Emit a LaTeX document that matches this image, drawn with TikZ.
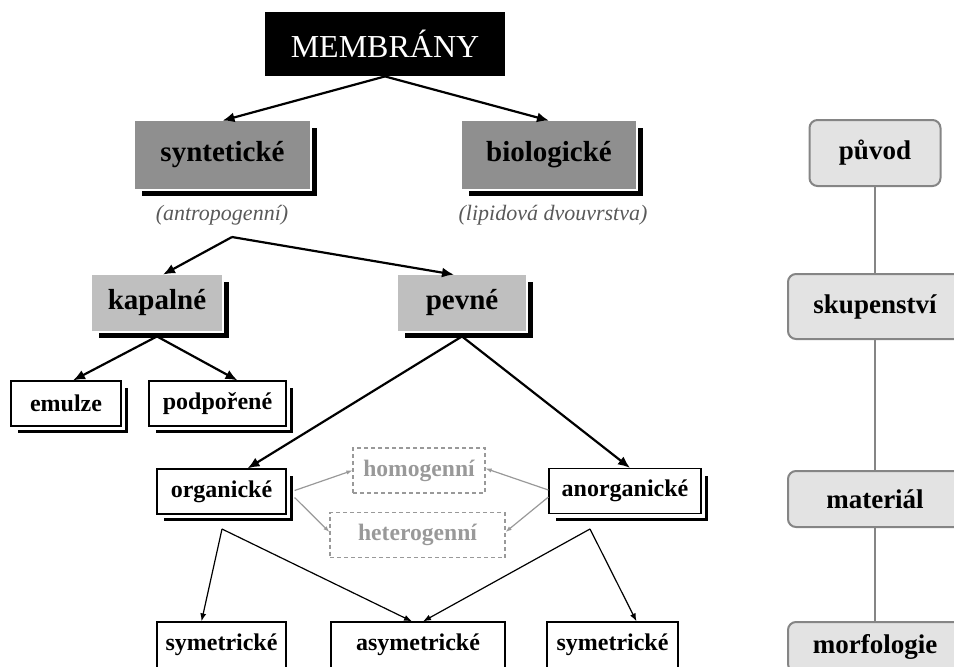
\documentclass[tikz,border=0pt]{standalone}
\usepackage{fontspec}
\setmainfont{Liberation Serif}
\usetikzlibrary{shadows,arrows.meta}

\definecolor{darkbox}{gray}{0.56}
\definecolor{lightbox}{gray}{0.75}
\definecolor{pillfill}{gray}{0.89}
\definecolor{pillline}{gray}{0.52}
\definecolor{dashgray}{gray}{0.6}
\definecolor{notegray}{gray}{0.35}

\begin{document}
\begin{tikzpicture}[x=0.5pt, y=-0.5pt,
	topbox/.style={fill=black, text=white, inner sep=0pt, font=\fontsize{16}{18}\selectfont},
	greybox/.style={general shadow={fill=black, shadow xshift=3.5pt, shadow yshift=-3.5pt},
		preaction={draw=white, line width=1.6pt}, inner sep=0pt, font=\fontsize{14.5}{16}\selectfont\bfseries},
	whitebox/.style={general shadow={fill=black, shadow xshift=3.5pt, shadow yshift=-3.5pt},
		preaction={draw=white, line width=4pt}, draw=black, line width=0.6pt, fill=white,
		inner sep=0pt, minimum height=22.5pt, font=\fontsize{12}{14}\selectfont\bfseries},
	plainbox/.style={draw=black, line width=0.6pt, fill=white, inner sep=0pt, minimum height=23pt,
		font=\fontsize{12}{14}\selectfont\bfseries},
	dashbox/.style={draw=dashgray, dash pattern=on 2pt off 1.5pt, line width=0.6pt, text=dashgray,
		inner sep=0pt, minimum height=22.5pt, font=\fontsize{11.8}{14}\selectfont\bfseries},
	pillbox/.style={draw=pillline, fill=pillfill, line width=1pt, rounded corners=4pt, inner sep=0pt,
		font=\fontsize{13.5}{15}\selectfont\bfseries},
	note/.style={text=notegray, font=\fontsize{11}{13}\selectfont\itshape},
	bigarrow/.style={line width=1.1pt, -{Latex[length=6pt,width=5pt]}},
	thinarrow/.style={line width=0.6pt, -{Latex[length=4pt,width=3pt]}},
	greyarrow/.style={draw=dashgray, line width=0.6pt, -{Latex[length=3pt,width=2.2pt]}},
	link/.style={draw=pillline, line width=1pt}]

	\useasboundingbox (0,0) rectangle (954,666);
	\clip (0,0) rectangle (954,666);

	% main tree
	\node[topbox, minimum width=120pt, minimum height=32pt] (membr) at (385,44) {MEMBRÁNY};
	\node[greybox, fill=darkbox, minimum width=87.5pt, minimum height=34pt] (syn) at (222.5,155) {syntetické};
	\node[greybox, fill=darkbox, minimum width=87pt, minimum height=34pt] (bio) at (549,155) {biologické};
	\node[note] (antro) at (222,215) {(antropogenní)};
	\node[note] (lipid) at (553,215) {(lipidová dvouvrstva)};
	\coordinate (fork) at (232,237);

	\node[greybox, fill=lightbox, minimum width=65pt, minimum height=28pt] (kap) at (157,303) {kapalné};
	\node[greybox, fill=lightbox, minimum width=64pt, minimum height=28pt] (pev) at (462,303) {pevné};

	\node[whitebox, minimum width=55pt] (emul) at (66,403.5) {emulze};
	\node[whitebox, minimum width=68.5pt] (podp) at (217.5,403.5) {podpořené};

	\node[whitebox, minimum width=64.5pt] (org) at (221.5,491.5) {organické};
	\node[whitebox, minimum width=76pt] (anorg) at (625,491) {anorganické};
	\node[dashbox, minimum width=66pt] (homo) at (419,470.5) {homogenní};
	\node[dashbox, minimum width=87.5pt] (hetero) at (417.5,535) {heterogenní};
	\coordinate (orgfork) at (222,529);
	\coordinate (anorgfork) at (590,529);

	\node[plainbox, minimum width=64.5pt] (symL) at (221.5,645) {symetrické};
	\node[plainbox, minimum width=87pt] (asym) at (418,645) {asymetrické};
	\node[plainbox, minimum width=65.5pt] (symR) at (612.5,645) {symetrické};

	\draw[bigarrow] (membr.south) -- (syn.north);
	\draw[bigarrow] (membr.south) -- (bio.north);
	\draw[bigarrow] (fork) -- ([xshift=3pt]kap.north);
	\draw[bigarrow] (fork) -- ([xshift=-4pt]pev.north);
	\draw[bigarrow] ([yshift=-2.5pt]kap.south) -- ([xshift=3.5pt]emul.north);
	\draw[bigarrow] ([yshift=-2.5pt]kap.south) -- ([xshift=10pt]podp.north);
	\draw[bigarrow] ([yshift=-2.5pt]pev.south) -- ([xshift=13pt]org.north);
	\draw[bigarrow] ([yshift=-2.5pt]pev.south) -- ([xshift=2.5pt]anorg.north);

	\draw[greyarrow] ([xshift=4pt,yshift=0.5pt]org.east) -- (homo.west);
	\draw[greyarrow] ([xshift=4pt,yshift=-3pt]org.east) -- ([yshift=1.5pt]hetero.west);
	\draw[greyarrow] ([yshift=0.5pt]anorg.west) -- ([yshift=1pt]homo.east);
	\draw[greyarrow] ([yshift=-3pt]anorg.west) -- ([yshift=1.5pt]hetero.east);

	\draw[thinarrow] (orgfork) -- ([xshift=-10pt]symL.north);
	\draw[thinarrow] (orgfork) -- ([xshift=-3pt]asym.north);
	\draw[thinarrow] (anorgfork) -- ([xshift=2.5pt]asym.north);
	\draw[thinarrow] (anorgfork) -- ([xshift=12pt]symR.north);

	% criteria column
	\node[pillbox, minimum width=65.5pt, minimum height=33pt] (puvod) at (875,153) {původ};
	\node[pillbox, minimum width=87pt, minimum height=32.5pt] (skup) at (875,306.5) {skupenství};
	\node[pillbox, minimum width=87pt, minimum height=28pt] (mat) at (875,499) {materiál};
	\node[pillbox, minimum width=87pt, minimum height=25pt] (morf) at (875,647) {morfologie};
	\draw[link] (puvod) -- (skup);
	\draw[link] (skup) -- (mat);
	\draw[link] (mat) -- (morf);
\end{tikzpicture}
\end{document}
